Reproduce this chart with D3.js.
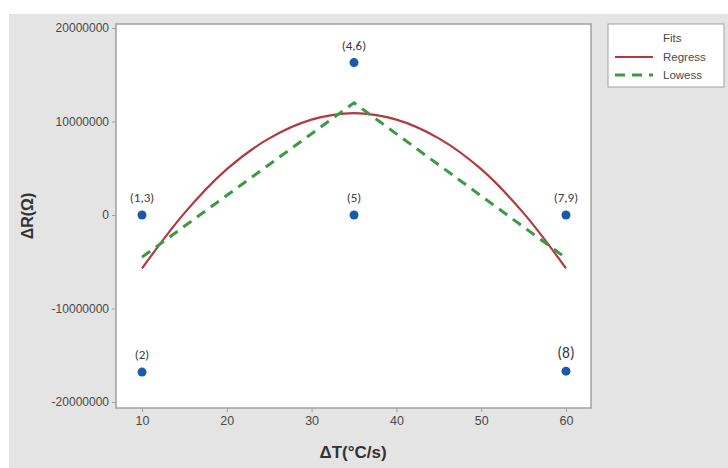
<!DOCTYPE html>
<html>
<head>
<meta charset="utf-8">
<script src="https://cdn.jsdelivr.net/npm/d3@7"></script>
<style>
  body { margin: 0; background: #fff; }
  text { font-family: Arial, "Liberation Sans", sans-serif; }
</style>
</head>
<body>
<div id="chart"></div>
<script>
// measured points: cooling rate vs resistance change
var ptX = [10, 10, 35, 35, 60, 60];
var ptY = [0, -16800000, 16300000, 0, 0, -16700000];
var ptLabel = ["(1,3)", "(2)", "(4,6)", "(5)", "(7,9)", "(8)"];

// fitted curves
var regX = [10, 15, 20, 25, 30, 35, 40, 45, 50, 55, 60];
var regY = [-5700000, 200000, 4900000, 8200000, 10200000, 10900000, 10200000, 8200000, 4900000, 200000, -5700000];
var lowX = [10, 35, 60];
var lowY = [-4500000, 12000000, -4600000];

var xTicks = [10, 20, 30, 40, 50, 60];
var yTicks = [-20000000, -10000000, 0, 10000000, 20000000];

var W = 728, H = 468;
// plot frame (window.top is taken, so no bare "top")
var pL = 116, pR = 591, pT = 24, pB = 408;

var svg = d3.select("#chart").append("svg")
  .attr("width", W)
  .attr("height", H);

// grey panel
svg.append("rect")
  .attr("x", 9).attr("y", 14)
  .attr("width", W - 9).attr("height", H - 14)
  .attr("fill", "#e4e4e4");

var x = d3.scaleLinear().domain([6.93, 62.95]).range([pL, pR]);
var y = d3.scaleLinear().domain([-20640000, 20430000]).range([pB, pT]);

svg.append("rect")
  .attr("x", pL).attr("y", pT)
  .attr("width", pR - pL).attr("height", pB - pT)
  .attr("fill", "#fff")
  .attr("stroke", "#a0a0a0")
  .attr("stroke-width", 1.5);

var xAxis = svg.append("g")
  .attr("transform", "translate(0," + pB + ")")
  .call(d3.axisBottom(x).tickValues(xTicks).tickSize(4).tickPadding(4));
var yAxis = svg.append("g")
  .attr("transform", "translate(" + pL + ",0)")
  .call(d3.axisLeft(y).tickValues(yTicks).tickSize(4).tickPadding(3)
    .tickFormat(function(d) { return String(d); })); // plain hyphen minus

[xAxis, yAxis].forEach(function(a) {
  a.select(".domain").remove();
  a.selectAll("line").attr("stroke", "#a0a0a0");
  a.selectAll("text")
    .attr("fill", "#484848")
    .style("font-size", "12px");
});
xAxis.selectAll("text").style("font-size", "12.5px");

// regression line
var reg = regX.map(function(d, i) { return [d, regY[i]]; });
svg.append("path")
  .datum(reg)
  .attr("fill", "none")
  .attr("stroke", "#b03a3e")
  .attr("stroke-width", 2.2)
  .attr("d", d3.line()
    .x(function(d) { return x(d[0]); })
    .y(function(d) { return y(d[1]); })
    .curve(d3.curveCatmullRom));

// lowess line
var low = lowX.map(function(d, i) { return [d, lowY[i]]; });
svg.append("path")
  .datum(low)
  .attr("fill", "none")
  .attr("stroke", "#3c9a44")
  .attr("stroke-width", 3)
  .attr("stroke-dasharray", "10,7")
  .attr("d", d3.line()
    .x(function(d) { return x(d[0]); })
    .y(function(d) { return y(d[1]); }));

// points + labels
var pts = svg.append("g").selectAll("g")
  .data(ptX.map(function(d, i) { return {x: d, y: ptY[i], label: ptLabel[i]}; }))
  .enter().append("g");
pts.append("circle")
  .attr("cx", function(d) { return x(d.x); })
  .attr("cy", function(d) { return y(d.y); })
  .attr("r", 4.5)
  .attr("fill", "#1a5aa8");
pts.append("text")
  .attr("x", function(d) { return x(d.x); })
  .attr("y", function(d) { return y(d.y) - 13; })
  .attr("text-anchor", "middle")
  .attr("fill", "#3a3a3a")
  .style("font-family", "Calibri, Carlito, 'Open Sans', sans-serif")
  .style("font-size", function(d) { return d.label == "(8)" ? "15.5px" : "13px"; })
  .text(function(d) { return d.label; });

// axis titles
svg.append("text")
  .attr("x", 353).attr("y", 458)
  .attr("text-anchor", "middle")
  .attr("fill", "#333")
  .style("font-size", "17px")
  .style("font-weight", "bold")
  .text("ΔT(°C/s)");
svg.append("text")
  .attr("transform", "translate(33,216) rotate(-90)")
  .attr("text-anchor", "middle")
  .attr("fill", "#333")
  .style("font-size", "16px")
  .style("font-weight", "bold")
  .text("ΔR(Ω)");

// legend
var lg = svg.append("g");
lg.append("rect")
  .attr("x", 608).attr("y", 24)
  .attr("width", 116).attr("height", 63)
  .attr("fill", "#fff")
  .attr("stroke", "#a0a0a0");
lg.append("text").attr("x", 663).attr("y", 42)
  .attr("fill", "#4a4a4a").style("font-size", "11.5px").text("Fits");
lg.append("line").attr("x1", 615).attr("x2", 653).attr("y1", 57).attr("y2", 57)
  .attr("stroke", "#b03a3e").attr("stroke-width", 2.2);
lg.append("text").attr("x", 663).attr("y", 61)
  .attr("fill", "#4a4a4a").style("font-size", "11.5px").text("Regress");
lg.append("line").attr("x1", 615).attr("x2", 653).attr("y1", 75).attr("y2", 75)
  .attr("stroke", "#3c9a44").attr("stroke-width", 3).attr("stroke-dasharray", "10,7");
lg.append("text").attr("x", 663).attr("y", 79)
  .attr("fill", "#4a4a4a").style("font-size", "11.5px").text("Lowess");
</script>
</body>
</html>
